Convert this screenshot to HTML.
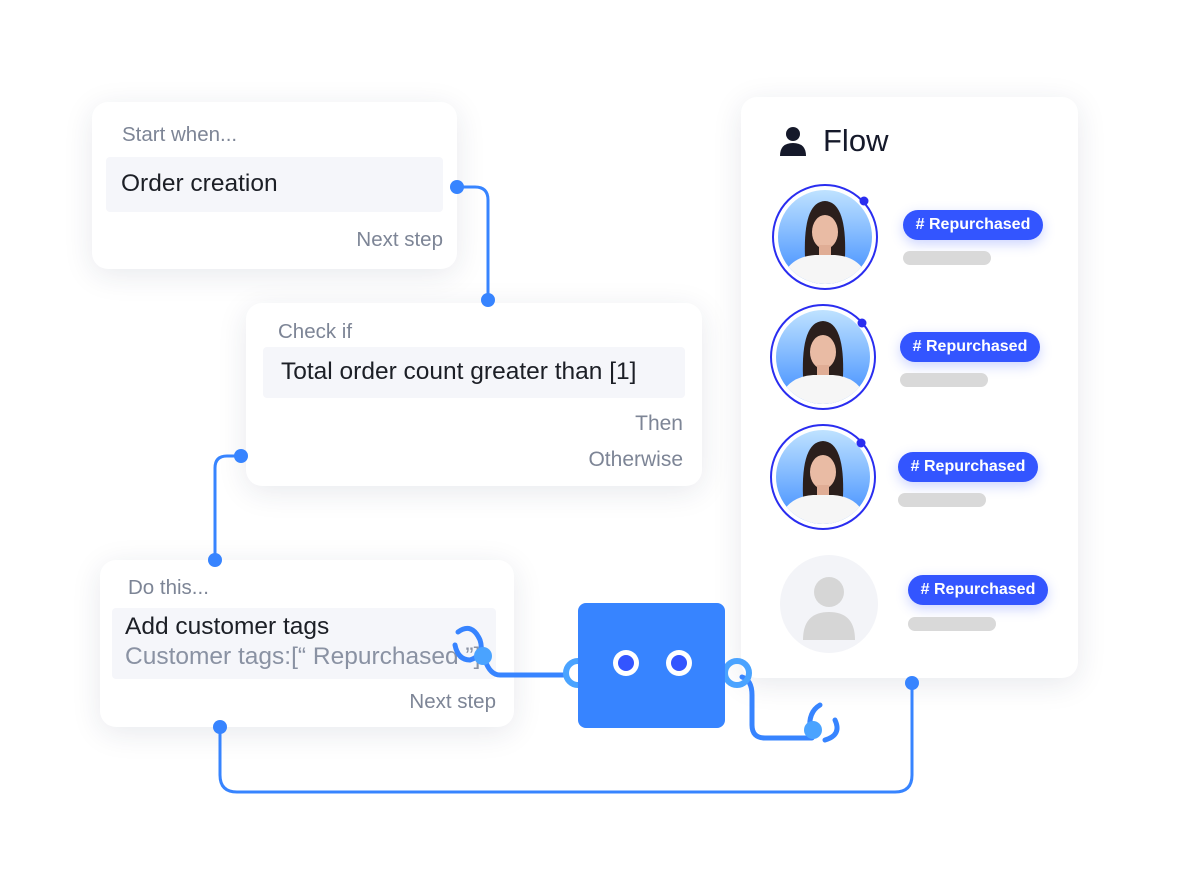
<!DOCTYPE html>
<html><head><style>
body{margin:0;width:1200px;height:880px;background:#fff;font-family:"Liberation Sans",sans-serif;position:relative;overflow:hidden}
.card{position:absolute;background:#fff;border-radius:16px;box-shadow:0 6px 30px rgba(30,40,80,0.10)}
.t{position:absolute;white-space:nowrap}
.g{color:#7d8596;font-size:20.5px}
.box{position:absolute;background:#f5f6fa;border-radius:4px}
.big{font-size:24.5px;color:#1c1f26}
.badge{position:absolute;background:#3355ff;color:#fff;border-radius:16px;font-weight:bold;font-size:16px;text-align:center;line-height:30px;width:140px;height:30px;box-shadow:0 4px 12px rgba(51,85,255,0.25)}
.bar{position:absolute;background:#d9d9d9;border-radius:8px;width:88px;height:14px}
</style></head><body>
<div class="card" style="left:92px;top:102px;width:365px;height:167px">
 <div class="t g" style="left:30px;top:21px">Start when...</div>
 <div class="box" style="left:14px;top:55px;width:337px;height:55px"></div>
 <div class="t big" style="left:29px;top:68px">Order creation</div>
 <div class="t g" style="right:14px;top:126px">Next step</div>
</div>
<div class="card" style="left:246px;top:303px;width:456px;height:183px">
 <div class="t g" style="left:32px;top:17px">Check if</div>
 <div class="box" style="left:17px;top:44px;width:422px;height:51px"></div>
 <div class="t big" style="left:35px;top:55px">Total order count greater than [1]</div>
 <div class="t g" style="right:19px;top:109px;font-size:21px">Then</div>
 <div class="t g" style="right:19px;top:145px;font-size:21px">Otherwise</div>
</div>
<div class="card" style="left:100px;top:560px;width:414px;height:167px">
 <div class="t g" style="left:28px;top:16px">Do this...</div>
 <div class="box" style="left:12px;top:48px;width:384px;height:71px"></div>
 <div class="t big" style="left:25px;top:53px">Add customer tags</div>
 <div class="t" style="left:25px;top:83px;font-size:24.5px;color:#8a92a3">Customer tags:[“ Repurchased ”]</div>
 <div class="t g" style="right:18px;top:130px">Next step</div>
</div>
<div class="card" style="left:741px;top:97px;width:337px;height:581px">
 <svg style="position:absolute;left:38px;top:28px" width="28" height="32" viewBox="0 0 28 32"><circle cx="14" cy="9" r="7" fill="#15192a"/><path d="M1 31 Q1 18 14 18 Q27 18 27 31Z" fill="#15192a"/></svg>
 <div class="t" style="left:82px;top:26px;font-size:31px;color:#15192a">Flow</div>
</div>
<svg style="position:absolute;left:0;top:0" width="1200" height="880">
 <defs>
  <linearGradient id="bg" x1="0" y1="0" x2="0" y2="1"><stop offset="0" stop-color="#bfe2ff"/><stop offset="1" stop-color="#3d8cff"/></linearGradient>
  <g id="av">
   <circle r="52" fill="#fff" stroke="#2a2df0" stroke-width="2"/>
   <circle r="47" fill="url(#bg)"/>
   <clipPath id="cp"><circle r="47"/></clipPath>
   <g clip-path="url(#cp)">
    <path d="M-20 20 Q-22 -35 0 -36 Q22 -35 20 20Z" fill="#2b1f1c"/>
    <ellipse cx="0" cy="-5" rx="13" ry="17" fill="#e9bba4"/>
    <rect x="-6" y="8" width="12" height="14" fill="#e0ad95"/>
    <path d="M-45 50 Q-40 20 -10 18 L10 18 Q40 20 45 50Z" fill="#f6f6f6"/>
   </g>
  </g>
 </defs>
 <g fill="none" stroke="#3784ff" stroke-width="3">
  <path d="M457 187 H475 Q488 187 488 200 V300"/>
  <path d="M241 456 H227 Q215 456 215 468 V560"/>
  <path d="M220 727 V775 Q220 792 237 792 H895 Q912 792 912 775 V683"/>
 </g>
 <g fill="#3784ff">
  <circle cx="457" cy="187" r="7"/><circle cx="488" cy="300" r="7"/>
  <circle cx="241" cy="456" r="7"/><circle cx="215" cy="560" r="7"/>
  <circle cx="220" cy="727" r="7"/><circle cx="912" cy="683" r="7"/>
 </g>
 <use href="#av" x="825" y="237"/>
 <use href="#av" x="823" y="357"/>
 <use href="#av" x="823" y="477"/>
 <circle cx="864" cy="201" r="4.5" fill="#2a2df0"/>
 <circle cx="862" cy="323" r="4.5" fill="#2a2df0"/>
 <circle cx="861" cy="443" r="4.5" fill="#2a2df0"/>
 <circle cx="829" cy="604" r="49" fill="#f3f4f8"/>
 <circle cx="829" cy="592" r="15" fill="#d6d6d6"/>
 <path d="M803 640 Q803 612 829 612 Q855 612 855 640Z" fill="#d6d6d6"/>
 <g fill="none" stroke="#3784ff" stroke-width="5" stroke-linecap="round">
  <path d="M565 675 H500 Q490 675 485 660"/>
  <path d="M742 677 Q752 680 752 695 V725 Q752 738 765 738 H812"/>
  <path d="M458 632 Q472 622 480 640 Q485 655 470 660"/>
  <path d="M470 660 Q458 660 455 645"/>
  <path d="M820 705 Q808 712 810 730"/>
  <path d="M835 720 Q842 735 825 740"/>
 </g>
 <circle cx="578" cy="673" r="12" fill="none" stroke="#4aa3ff" stroke-width="6"/>
 <circle cx="737" cy="673" r="12" fill="none" stroke="#4aa3ff" stroke-width="6"/>
 <rect x="578" y="603" width="147" height="125" rx="8" fill="#3784ff"/>
 <circle cx="626" cy="663" r="13" fill="#fff"/><circle cx="626" cy="663" r="8" fill="#3355ff"/>
 <circle cx="679" cy="663" r="13" fill="#fff"/><circle cx="679" cy="663" r="8" fill="#3355ff"/>
 <circle cx="483" cy="656" r="9" fill="#4aa3ff"/>
 <circle cx="813" cy="730" r="9" fill="#4aa3ff"/>
</svg>
<div class="badge" style="left:903px;top:210px"># Repurchased</div><div class="bar" style="left:903px;top:251px"></div>
<div class="badge" style="left:900px;top:332px"># Repurchased</div><div class="bar" style="left:900px;top:373px"></div>
<div class="badge" style="left:898px;top:452px"># Repurchased</div><div class="bar" style="left:898px;top:493px"></div>
<div class="badge" style="left:908px;top:575px"># Repurchased</div><div class="bar" style="left:908px;top:617px"></div>
</body></html>
